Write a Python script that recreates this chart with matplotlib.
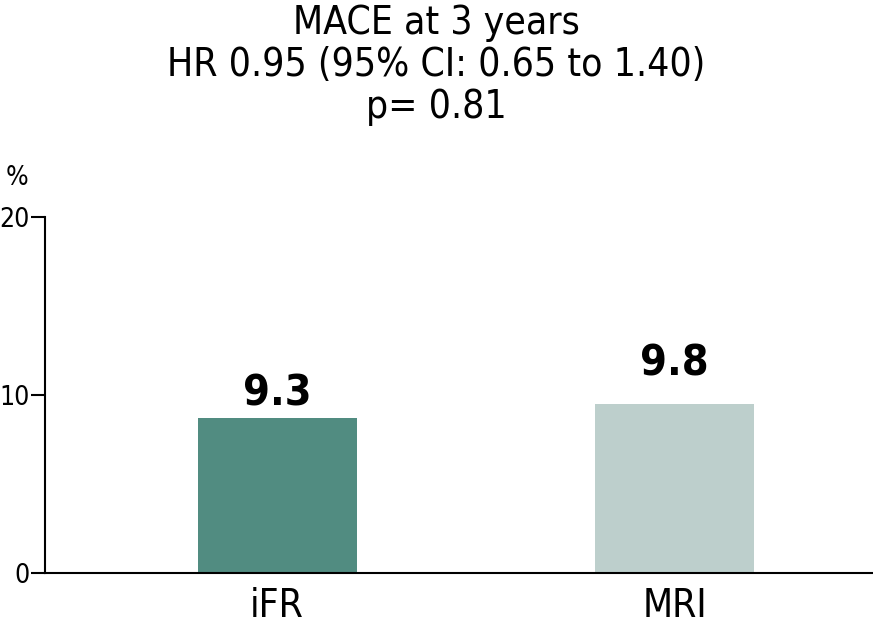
import matplotlib
matplotlib.use('Agg')
import matplotlib.pyplot as plt

groups = ['iFR', 'MRI']
heights = [8.73, 9.52]          # bar heights as drawn
labels = ['9.3', '9.8']         # printed values
colors = ['#518c81', '#bdcfcc']
yticks = [0, 10, 20]

plt.rcParams['font.family'] = ['DejaVu Sans']
plt.rcParams['font.stretch'] = 'condensed'

fig = plt.figure(figsize=(8.73, 6.41), dpi=100)
ax = fig.add_axes([45 / 873, 68 / 641, 828 / 873, 356 / 641])

x = list(range(len(groups)))
ax.bar(x, heights, width=0.4, color=colors, zorder=2)

label_offsets = [2, 14]
for xi, h, lab, off in zip(x, heights, labels, label_offsets):
    ax.annotate(lab, (xi, h), xytext=(0, off), textcoords='offset points',
                ha='center', va='bottom', fontsize=31, fontweight='bold')

ax.set_xlim(-0.584, 1.499)
ax.set_ylim(0, 20)
ax.set_yticks(yticks)
ax.set_xticks(x)
ax.set_xticklabels(groups, fontsize=28)
ax.tick_params(axis='x', length=0, pad=10)
ax.tick_params(axis='y', labelsize=19, length=10, width=1.5, pad=1)
ax.spines['top'].set_visible(False)
ax.spines['right'].set_visible(False)
ax.spines['left'].set_linewidth(1.5)
ax.spines['bottom'].set_linewidth(1.5)

fig.text(17 / 873, 1 - 178 / 641, '%', fontsize=19, ha='center', va='center')
fig.text(0.5, 1 - 4 / 641, 'MACE at 3 years\nHR 0.95 (95% CI: 0.65 to 1.40)\np= 0.81',
         ha='center', va='top', fontsize=28, linespacing=1.13)

fig.savefig('out.png', dpi=100)
